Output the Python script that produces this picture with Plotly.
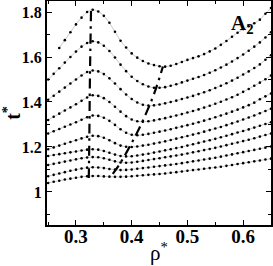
import plotly.graph_objects as go

rho = [0.25, 0.26, 0.27, 0.28, 0.29, 0.30, 0.31, 0.32, 0.33, 0.34, 0.35, 0.36, 0.37, 0.38, 0.39,
       0.40, 0.41, 0.42, 0.43, 0.44, 0.45, 0.46, 0.47, 0.48, 0.49, 0.50, 0.51, 0.52, 0.53, 0.54,
       0.55, 0.56, 0.57, 0.58, 0.59, 0.60, 0.61, 0.62, 0.63, 0.64, 0.65]

t_c1 = [None, None, 1.640, 1.675, 1.710, 1.745, 1.775, 1.800, 1.810, 1.802, 1.783, 1.752, 1.712, 1.672, 1.642,
        1.616, 1.597, 1.582, 1.571, 1.564, 1.559, 1.557, 1.561, 1.569, 1.578, 1.587, 1.595, 1.603, 1.613, 1.625,
        1.638, 1.654, 1.671, 1.690, 1.708, 1.724, 1.737, 1.750, 1.766, 1.792, 1.818]
t_c2 = [1.500, 1.525, 1.550, 1.575, 1.600, 1.624, 1.646, 1.662, 1.670, 1.665, 1.650, 1.627, 1.598, 1.566, 1.537,
        1.512, 1.493, 1.479, 1.469, 1.463, 1.463, 1.466, 1.472, 1.479, 1.487, 1.495, 1.503, 1.511, 1.520, 1.530,
        1.541, 1.553, 1.566, 1.580, 1.595, 1.611, 1.628, 1.646, 1.665, 1.687, 1.710]
t_c3 = [1.410, 1.428, 1.446, 1.464, 1.482, 1.500, 1.518, 1.533, 1.540, 1.536, 1.524, 1.505, 1.482, 1.457, 1.433,
        1.413, 1.398, 1.388, 1.384, 1.385, 1.389, 1.394, 1.400, 1.406, 1.413, 1.420, 1.427, 1.435, 1.443, 1.452,
        1.462, 1.472, 1.483, 1.495, 1.508, 1.522, 1.536, 1.551, 1.567, 1.588, 1.608]
t_c4 = [1.320, 1.334, 1.348, 1.362, 1.376, 1.390, 1.405, 1.420, 1.430, 1.427, 1.417, 1.400, 1.379, 1.357, 1.337,
        1.322, 1.314, 1.312, 1.314, 1.318, 1.323, 1.328, 1.334, 1.340, 1.346, 1.353, 1.360, 1.367, 1.375, 1.383,
        1.392, 1.401, 1.411, 1.421, 1.432, 1.445, 1.458, 1.472, 1.486, 1.501, 1.518]
t_c5 = [1.260, 1.270, 1.280, 1.290, 1.300, 1.310, 1.321, 1.332, 1.340, 1.338, 1.330, 1.316, 1.298, 1.279, 1.263,
        1.254, 1.252, 1.254, 1.258, 1.263, 1.268, 1.273, 1.279, 1.285, 1.291, 1.297, 1.303, 1.310, 1.317, 1.324,
        1.332, 1.340, 1.348, 1.357, 1.366, 1.376, 1.386, 1.397, 1.412, 1.425, 1.438]
t_c6 = [1.190, 1.198, 1.206, 1.214, 1.222, 1.230, 1.238, 1.245, 1.250, 1.248, 1.241, 1.230, 1.217, 1.206, 1.201,
        1.200, 1.202, 1.206, 1.210, 1.215, 1.220, 1.225, 1.231, 1.237, 1.243, 1.249, 1.255, 1.261, 1.268, 1.275,
        1.282, 1.289, 1.297, 1.305, 1.313, 1.322, 1.331, 1.340, 1.350, 1.360, 1.370]
t_c7 = [1.160, 1.164, 1.168, 1.172, 1.176, 1.180, 1.184, 1.188, 1.190, 1.188, 1.182, 1.174, 1.166, 1.160, 1.158,
        1.159, 1.162, 1.166, 1.170, 1.175, 1.180, 1.185, 1.190, 1.195, 1.200, 1.206, 1.212, 1.218, 1.224, 1.230,
        1.236, 1.243, 1.250, 1.257, 1.264, 1.271, 1.278, 1.286, 1.294, 1.302, 1.310]
t_c8 = [1.120, 1.125, 1.130, 1.135, 1.140, 1.145, 1.150, 1.153, 1.155, 1.154, 1.150, 1.143, 1.136, 1.131, 1.130,
        1.131, 1.134, 1.138, 1.142, 1.146, 1.150, 1.154, 1.158, 1.162, 1.166, 1.171, 1.176, 1.181, 1.186, 1.191,
        1.196, 1.202, 1.208, 1.214, 1.220, 1.226, 1.232, 1.239, 1.246, 1.253, 1.260]
t_c9 = [1.070, 1.076, 1.082, 1.088, 1.094, 1.099, 1.104, 1.108, 1.110, 1.109, 1.106, 1.102, 1.099, 1.097, 1.098,
        1.100, 1.103, 1.106, 1.109, 1.112, 1.115, 1.118, 1.121, 1.124, 1.128, 1.132, 1.136, 1.140, 1.144, 1.148,
        1.152, 1.157, 1.162, 1.167, 1.172, 1.177, 1.182, 1.187, 1.192, 1.197, 1.202]
t_c10 = [1.040, 1.045, 1.050, 1.055, 1.059, 1.063, 1.067, 1.070, 1.071, 1.071, 1.069, 1.068, 1.067, 1.067, 1.068,
         1.070, 1.072, 1.074, 1.076, 1.078, 1.080, 1.082, 1.085, 1.088, 1.091, 1.094, 1.097, 1.100, 1.103, 1.106,
         1.109, 1.112, 1.116, 1.120, 1.124, 1.128, 1.132, 1.136, 1.140, 1.144, 1.148]

curves = [t_c1, t_c2, t_c3, t_c4, t_c5, t_c6, t_c7, t_c8, t_c9, t_c10]

# loci of maxima and minima
max_rho = [0.327, 0.325, 0.324, 0.323]
max_t = [1.805, 1.50, 1.25, 1.062]
min_rho = [0.366, 0.380, 0.395, 0.410, 0.425, 0.440, 0.456]
min_t = [1.080, 1.130, 1.195, 1.265, 1.345, 1.435, 1.557]

x_ticks = [0.3, 0.4, 0.5, 0.6]
x_ticklabels = ["0.3", "0.4", "0.5", "0.6"]
y_ticks = [1.0, 1.2, 1.4, 1.6, 1.8]
y_ticklabels = ["1", "1.2", "1.4", "1.6", "1.8"]

SERIF = "Liberation Serif"

fig = go.Figure()
for c in curves:
    fig.add_trace(go.Scatter(
        x=rho, y=c, mode="lines+markers",
        line=dict(color="#c8c8c8", width=1, shape="spline"),
        marker=dict(color="black", size=2.6),
        connectgaps=False, showlegend=False, hoverinfo="skip"))

dash_pattern = "10px,5px,2.5px,5px"
fig.add_trace(go.Scatter(x=max_rho, y=max_t, mode="lines",
                         line=dict(color="black", width=2.2, dash=dash_pattern, shape="spline"),
                         showlegend=False, hoverinfo="skip"))
fig.add_trace(go.Scatter(x=min_rho, y=min_t, mode="lines",
                         line=dict(color="black", width=2.2, dash=dash_pattern, shape="spline"),
                         showlegend=False, hoverinfo="skip"))

fig.add_annotation(x=0.599, y=1.745, xref="x", yref="y",
                   text="<b>A</b><sub><b>2</b></sub>", showarrow=False,
                   font=dict(family=SERIF, size=21, color="black"))

axis_common = dict(
    showgrid=False, zeroline=False, showline=True, linecolor="black", linewidth=2,
    mirror="allticks", ticks="inside", tickcolor="black", tickwidth=1.3, ticklen=5,
    automargin=False,
)

fig.update_xaxes(
    range=[0.248, 0.650], tickvals=x_ticks, ticktext=x_ticklabels,
    tickfont=dict(family=SERIF, size=19, color="black", weight="bold"),
    ticklabelstandoff=-7,
    minor=dict(dtick=0.05, tick0=0.3, ticks="inside", ticklen=3, tickcolor="black", tickwidth=1.2),
    title=dict(text="ρ<sup>*</sup>", font=dict(family=SERIF, size=21, color="black"), standoff=0),
    **axis_common)
fig.update_yaxes(
    range=[0.853, 1.849], tickvals=y_ticks, ticktext=y_ticklabels,
    tickfont=dict(family=SERIF, size=16, color="black", weight="bold"),
    minor=dict(dtick=0.1, tick0=1.0, ticks="inside", ticklen=3, tickcolor="black", tickwidth=1.2),
    title=dict(text="t<sup>*</sup>", font=dict(family=SERIF, size=20, color="black", weight="bold"), standoff=2),
    **axis_common)

fig.update_layout(
    width=273, height=266,
    margin=dict(l=47, r=2, t=1, b=41),
    paper_bgcolor="white", plot_bgcolor="white",
)

fig.write_html("out.html", config={"displayModeBar": False},
               post_script="document.body.style.margin='0px';")
